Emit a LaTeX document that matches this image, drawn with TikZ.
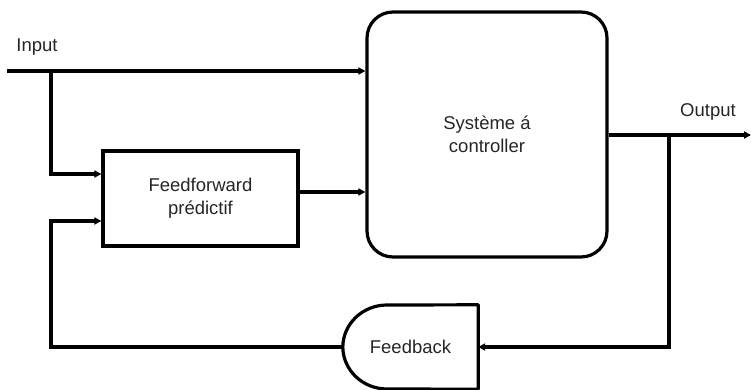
\documentclass[tikz,border=0pt]{standalone}
\usepackage{fontspec}
\setmainfont{Liberation Sans}
\usetikzlibrary{arrows.meta}
\begin{document}
\begin{tikzpicture}[x=1pt,y=-1pt,
  wire/.style={line width=3.2pt,-{Triangle[length=7pt,width=7pt]}},
  blk/.style={draw,line width=3.2pt,inner sep=0pt},
  lbl/.style={font=\fontsize{18.5}{23}\selectfont,text=black!85,align=center}]
\useasboundingbox (0,0) rectangle (751,390);
\fill[white] (0,0) rectangle (751,390);
% blocks
\node[blk,minimum width=195pt,minimum height=95pt,lbl] (ff) at (200.5,198.5) {Feedforward\\prédictif};
\node[blk,rounded corners=26pt,minimum width=240pt,minimum height=245pt,lbl] (sys) at (487,134.5) {Système á\\controller};
\node[minimum width=135pt,minimum height=84pt,inner sep=0pt,lbl] (fb) at (410.5,347) {Feedback};
\draw[line width=3.2pt,line join=round] (fb.north east) -- (fb.south east) -- (387,389)
  .. controls (362.7,389) and (343,370.2) .. (fb.west)
  .. controls (343,323.8) and (362.7,305) .. (387,305) -- cycle;
% labels
\node[lbl] (inlbl) at (37,47) {Input};
\node[lbl] (outlbl) at (708,112) {Output};
% junction coordinates
\coordinate (in) at (7,71);
\coordinate (j1) at (51,71);
\coordinate (j1b) at (51,174);
\coordinate (fbk) at (51,221);
\coordinate (mid) at (330,192);
\coordinate (out) at (751,135);
\coordinate (j2) at (669,135);
% connectors
\draw[wire] (in) -- (in -| sys.west);
\draw[wire] (j1) -- (j1b) -- (j1b -| ff.west);
\draw[wire] (ff.east |- mid) -- (mid -| sys.west);
\draw[wire] (sys.east |- out) -- (out);
\draw[wire] (j2) |- (fb.east);
\draw[wire] (fb.west) -| (fbk) -- (fbk -| ff.west);
\end{tikzpicture}
\end{document}
